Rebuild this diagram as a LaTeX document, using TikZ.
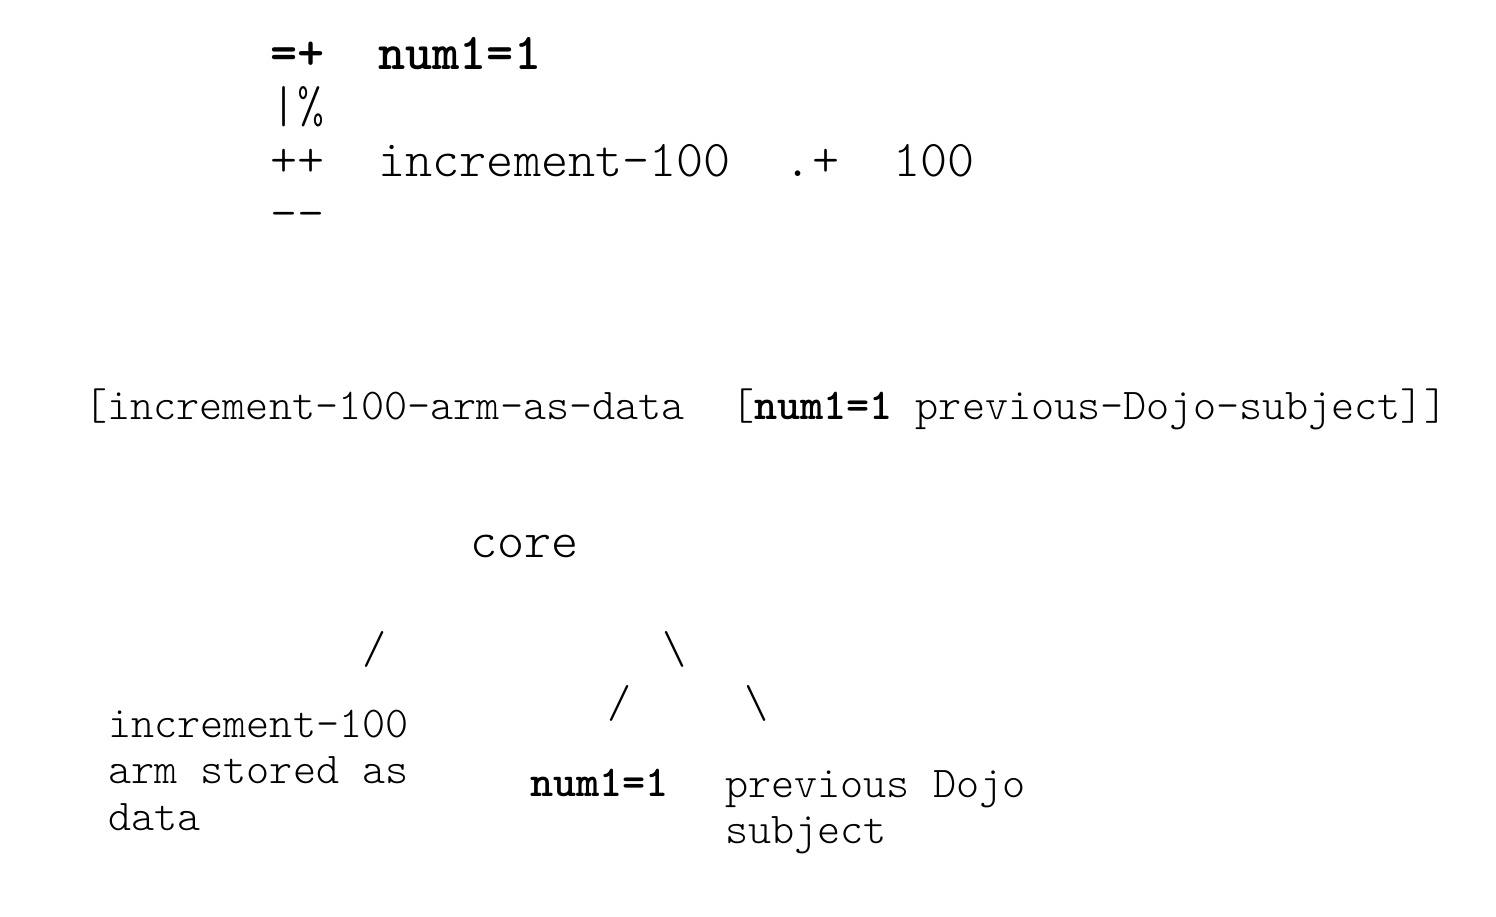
\documentclass[tikz,border=0pt]{standalone}
\usepackage{fontspec}
\setmainfont{lmmonolt10-regular.otf}[BoldFont=lmmonolt10-bold.otf]
\begin{document}
\begin{tikzpicture}[x=1pt,y=-1pt,
  big/.style={font=\fontsize{51.6}{53}\selectfont,anchor=base west,inner sep=0pt},
  small/.style={font=\fontsize{44}{46}\selectfont,anchor=base west,inner sep=0pt},
  slash/.style={font=\fontsize{46}{48}\selectfont,anchor=center,inner sep=0pt}]
\useasboundingbox (0,0) rectangle (1496,916);
% top block
\node[big] (l1) at (270,69) {\textbf{=+~~num1=1}};
\node[big] (l2) at (270,122.5) {|\%};
\node[big] (l3) at (270,176) {++~~increment-100~~.+~~100};
\node[big] (l4) at (270,229.5) {-{}-};
% bracket line
\node[small] (br) at (84,419) {[increment-100-arm-as-data~~[\textbf{num1=1} previous-Dojo-subject]]};
% tree
\node[big] (core) at (470,557) {core};
\node[slash] (s1) at (375,649) {/};
\node[slash] (s2) at (675,649) {\textbackslash};
\node[slash] (s3) at (620,703) {/};
\node[slash] (s4) at (757,703) {\textbackslash};
\node[small] (a1) at (108,737) {increment-100};
\node[small] (a2) at (108,783) {arm stored as};
\node[small] (a3) at (108,830) {data};
\node[small] (b1) at (530,796) {\textbf{num1=1}};
\node[small] (c1) at (725,797) {previous Dojo};
\node[small] (c2) at (725,843) {subject};
\end{tikzpicture}
\end{document}
